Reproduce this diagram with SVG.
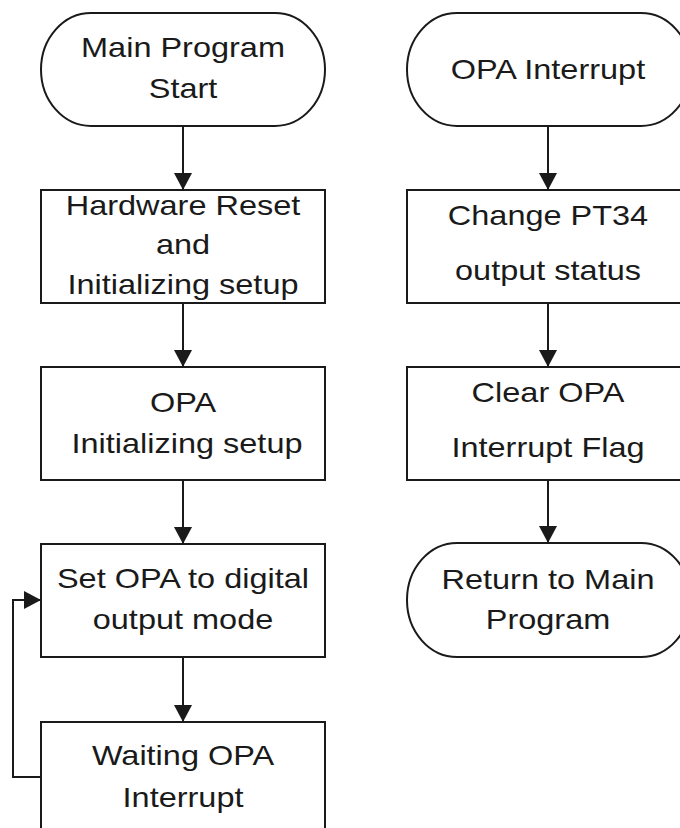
<svg xmlns="http://www.w3.org/2000/svg" width="680" height="828" viewBox="0 0 680 828">
  <style>
    .shape { fill: #ffffff; stroke: #1a1a1a; stroke-width: 2; }
    .edge { fill: none; stroke: #1a1a1a; stroke-width: 2; }
    .label { font-family: "Liberation Sans", Arial, sans-serif; font-size: 28px; fill: #1a1a1a; text-anchor: middle; }
  </style>
  <defs>
    <marker id="arrow" markerUnits="userSpaceOnUse" markerWidth="18" markerHeight="18" refX="17" refY="9" orient="auto">
      <path d="M0,0 L17,9 L0,18 z" fill="#1a1a1a"/>
    </marker>
  </defs>
  <rect width="680" height="828" fill="#ffffff"/>

  <!-- connectors -->
  <g id="connectors">
    <line class="edge" x1="183" y1="126" x2="183" y2="190" marker-end="url(#arrow)"/>
    <line class="edge" x1="183" y1="303" x2="183" y2="367" marker-end="url(#arrow)"/>
    <line class="edge" x1="183" y1="480" x2="183" y2="544" marker-end="url(#arrow)"/>
    <line class="edge" x1="183" y1="657" x2="183" y2="722" marker-end="url(#arrow)"/>
    <polyline class="edge" points="41,777 13,777 13,600 41,600" marker-end="url(#arrow)"/>
    <line class="edge" x1="548" y1="126" x2="548" y2="190" marker-end="url(#arrow)"/>
    <line class="edge" x1="548" y1="303" x2="548" y2="367" marker-end="url(#arrow)"/>
    <line class="edge" x1="548" y1="480" x2="548" y2="543" marker-end="url(#arrow)"/>
  </g>

  <!-- main program column -->
  <g id="main-start">
    <rect class="shape" x="41" y="13" width="284" height="113" rx="50" ry="56.5"/>
    <text class="label" transform="translate(183,57) scale(1.16,1)">Main Program</text>
    <text class="label" transform="translate(183,98) scale(1.16,1)">Start</text>
  </g>
  <g id="hw-reset">
    <rect class="shape" x="41" y="190" width="284" height="113"/>
    <text class="label" transform="translate(183,215) scale(1.16,1)">Hardware Reset</text>
    <text class="label" transform="translate(183,254) scale(1.16,1)">and</text>
    <text class="label" transform="translate(183,294) scale(1.16,1)">Initializing setup</text>
  </g>
  <g id="opa-init">
    <rect class="shape" x="41" y="367" width="284" height="113"/>
    <text class="label" transform="translate(183,412) scale(1.16,1)">OPA</text>
    <text class="label" transform="translate(187,453) scale(1.16,1)">Initializing setup</text>
  </g>
  <g id="set-opa">
    <rect class="shape" x="41" y="544" width="284" height="113"/>
    <text class="label" transform="translate(183,588) scale(1.16,1)">Set OPA to digital</text>
    <text class="label" transform="translate(183,629) scale(1.16,1)">output mode</text>
  </g>
  <g id="wait-int">
    <rect class="shape" x="41" y="722" width="284" height="113"/>
    <text class="label" transform="translate(183,765) scale(1.16,1)">Waiting OPA</text>
    <text class="label" transform="translate(183,807) scale(1.16,1)">Interrupt</text>
  </g>

  <!-- interrupt routine column -->
  <g id="int-start">
    <rect class="shape" x="407" y="13" width="284" height="113" rx="50" ry="56.5"/>
    <text class="label" transform="translate(548,79) scale(1.16,1)">OPA Interrupt</text>
  </g>
  <g id="change-pt34">
    <rect class="shape" x="407" y="190" width="284" height="113"/>
    <text class="label" transform="translate(548,225) scale(1.16,1)">Change PT34</text>
    <text class="label" transform="translate(548,280) scale(1.16,1)">output status</text>
  </g>
  <g id="clear-flag">
    <rect class="shape" x="407" y="367" width="284" height="113"/>
    <text class="label" transform="translate(548,402) scale(1.16,1)">Clear OPA</text>
    <text class="label" transform="translate(548,457) scale(1.16,1)">Interrupt Flag</text>
  </g>
  <g id="return-main">
    <rect class="shape" x="407" y="543" width="284" height="114" rx="50" ry="57"/>
    <text class="label" transform="translate(548,589) scale(1.16,1)">Return to Main</text>
    <text class="label" transform="translate(548,629) scale(1.16,1)">Program</text>
  </g>
</svg>
